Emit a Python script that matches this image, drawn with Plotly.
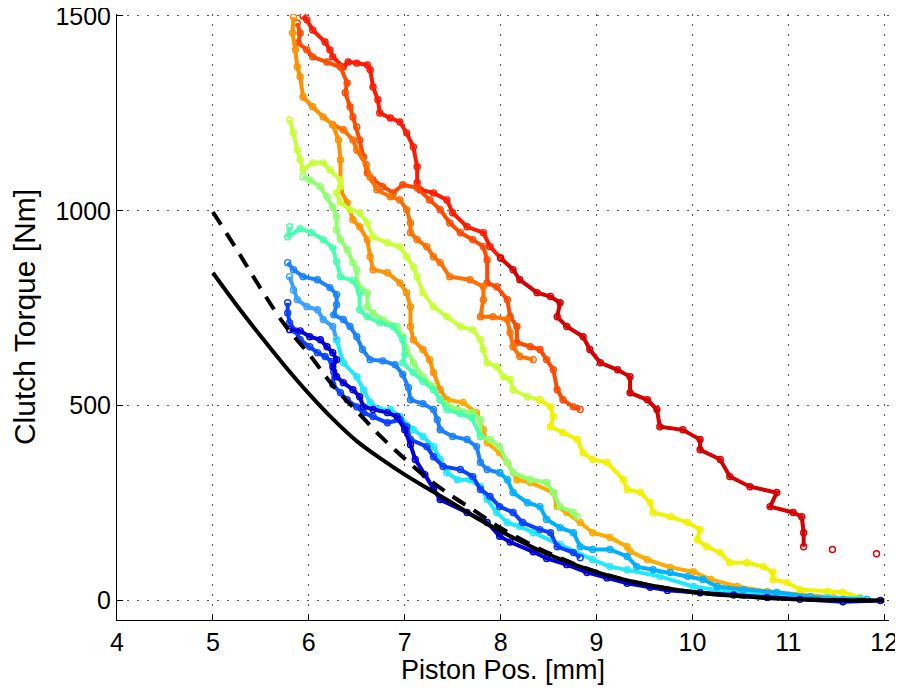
import plotly.graph_objects as go

# ---------------- data ----------------
red_top_x = [5.94, 5.98, 6.04, 6.17, 6.22, 6.25, 6.36, 6.41, 6.50, 6.61, 6.64, 6.67, 6.72, 6.74, 6.85, 6.95, 7.02, 7.09, 7.13, 7.13, 7.16, 7.30, 7.44, 7.50, 7.65, 7.82, 7.89, 8.00]
red_top_y = [1500, 1490, 1464, 1433, 1413, 1395, 1369, 1382, 1379, 1374, 1362, 1318, 1285, 1251, 1238, 1228, 1200, 1164, 1113, 1072, 1054, 1046, 1028, 995, 959, 944, 908, 879]

red_bot_x = [8.00, 8.13, 8.20, 8.38, 8.52, 8.62, 8.59, 8.69, 8.86, 8.93, 9.04, 9.22, 9.35, 9.35, 9.53, 9.63, 9.66, 9.90, 10.08, 10.08, 10.29, 10.39, 10.60, 10.88, 10.81, 11.05, 11.14, 11.16, 11.16]
red_bot_y = [879, 849, 823, 790, 780, 764, 728, 703, 677, 644, 610, 592, 574, 533, 515, 490, 446, 438, 413, 387, 362, 318, 292, 277, 241, 226, 215, 174, 138]

red_dots_x = [11.46, 11.92]
red_dots_y = [131, 120]

ored_x = [5.88, 5.91, 5.89, 5.98, 6.04, 6.19, 6.33, 6.40, 6.38, 6.43, 6.46, 6.50, 6.53, 6.57, 6.61, 6.67, 6.77, 6.88, 6.98, 7.13, 7.26, 7.37, 7.47, 7.58, 7.71, 7.82, 7.86, 7.86, 7.96, 8.07, 8.10, 8.17, 8.17, 8.31, 8.41, 8.48, 8.55, 8.59, 8.65, 8.76, 8.83]
ored_y = [1482, 1456, 1431, 1413, 1395, 1382, 1369, 1328, 1303, 1267, 1241, 1215, 1182, 1138, 1097, 1079, 1062, 1046, 1067, 1059, 1028, 1003, 969, 944, 926, 908, 874, 815, 805, 772, 728, 703, 662, 651, 644, 618, 592, 541, 515, 497, 490]

orng_x = [6.25, 6.36, 6.46, 6.50, 6.60, 6.64, 6.71, 6.85, 6.95, 7.02, 7.06, 7.06, 7.13, 7.23, 7.30, 7.37, 7.47, 7.68, 7.82, 7.82, 7.79, 7.92, 8.07, 8.10, 8.13, 8.20, 8.34]
orng_y = [1221, 1208, 1182, 1156, 1118, 1087, 1054, 1036, 1028, 1003, 969, 944, 926, 908, 882, 867, 831, 823, 805, 772, 728, 728, 721, 687, 651, 626, 618]

amber_top_x = [5.84, 5.83, 5.86, 5.88, 5.91, 5.94, 6.04, 6.15, 6.25, 6.31, 6.33, 6.33, 6.40, 6.46, 6.53, 6.61, 6.64, 6.67, 6.82, 6.95, 7.02, 7.06, 7.06, 7.09, 7.19, 7.26, 7.30, 7.37, 7.44]
amber_top_y = [1497, 1456, 1413, 1369, 1344, 1292, 1267, 1241, 1221, 1182, 1131, 1054, 1021, 977, 959, 926, 882, 849, 841, 815, 790, 754, 703, 669, 644, 618, 585, 541, 515]
amber_bot_x = [7.44, 7.61, 7.75, 7.82, 7.86, 7.99, 8.07, 8.17, 8.31, 8.55, 8.59, 8.69, 8.83, 8.96, 9.14, 9.32, 9.35, 9.53, 9.77, 10.01, 10.19, 10.47, 10.78, 11.12, 11.47, 11.75]
amber_bot_y = [515, 508, 482, 438, 405, 379, 354, 310, 303, 277, 241, 226, 200, 174, 162, 138, 126, 105, 85, 74, 54, 36, 23, 15, 8, 3]

ygreen_x = [5.80, 5.84, 5.88, 5.91, 5.94, 6.04, 6.15, 6.22, 6.33, 6.33, 6.29, 6.33, 6.43, 6.53, 6.61, 6.67, 6.82, 6.95, 7.02, 7.09, 7.13, 7.19, 7.30, 7.44, 7.58, 7.71, 7.79, 7.82, 7.86, 7.96, 8.03, 8.10, 8.13, 8.28, 8.41]
ygreen_y = [1233, 1200, 1156, 1131, 1105, 1123, 1123, 1105, 1079, 1062, 1046, 1021, 1003, 995, 969, 933, 918, 908, 882, 856, 831, 790, 754, 728, 703, 695, 669, 644, 610, 600, 574, 567, 541, 523, 515]
yellow_x = [8.41, 8.52, 8.55, 8.52, 8.65, 8.80, 8.86, 8.96, 9.11, 9.28, 9.32, 9.46, 9.56, 9.59, 9.77, 9.95, 10.08, 10.05, 10.15, 10.29, 10.39, 10.57, 10.74, 10.84, 10.84, 10.99, 11.12, 11.41, 11.57, 11.75]
yellow_y = [515, 497, 472, 446, 431, 413, 379, 362, 354, 310, 285, 277, 251, 226, 215, 200, 182, 156, 138, 123, 97, 97, 87, 72, 54, 46, 28, 23, 21, 8]

lgreen_x = [5.94, 6.01, 6.12, 6.19, 6.25, 6.29, 6.29, 6.33, 6.40, 6.46, 6.50, 6.50, 6.61, 6.61, 6.67, 6.77, 6.92, 6.98, 7.02, 7.09, 7.19, 7.30, 7.37, 7.55, 7.71, 7.79, 7.79, 7.89, 7.99, 8.07, 8.13, 8.31, 8.48, 8.55, 8.62, 8.76, 8.80]
lgreen_y = [1087, 1079, 1062, 1036, 1010, 985, 951, 926, 900, 867, 849, 815, 790, 754, 738, 720, 703, 677, 644, 610, 574, 549, 515, 490, 482, 464, 421, 413, 395, 354, 328, 310, 303, 277, 241, 226, 215]

teal_x = [5.80, 5.78, 5.91, 6.03, 6.15, 6.25, 6.29, 6.33, 6.46, 6.53, 6.53, 6.61, 6.74, 6.88, 6.98, 7.00, 6.98, 7.09, 7.19, 7.30, 7.37, 7.44, 7.58, 7.70, 7.79]
teal_y = [959, 933, 954, 944, 926, 905, 869, 831, 821, 790, 746, 728, 713, 703, 669, 631, 610, 585, 562, 541, 515, 490, 479, 469, 421]

azure_top_x = [5.78, 5.84, 5.94, 6.09, 6.22, 6.29, 6.29, 6.26, 6.36, 6.43, 6.50, 6.56, 6.64, 6.77, 6.90, 6.98, 7.04, 7.06, 7.19, 7.30, 7.34, 7.37, 7.50, 7.65, 7.75, 7.79, 7.86, 7.99]
azure_top_y = [867, 849, 831, 823, 803, 785, 759, 733, 721, 703, 677, 644, 618, 615, 605, 580, 546, 515, 505, 490, 464, 438, 421, 413, 395, 354, 336, 328]
azure_bot_x = [7.99, 8.07, 8.13, 8.28, 8.41, 8.48, 8.62, 8.76, 8.83, 8.96, 9.14, 9.32, 9.42, 9.59, 9.77, 9.95, 10.11, 10.26, 10.53, 10.88, 11.23, 11.57, 11.82]
azure_bot_y = [328, 310, 277, 251, 241, 208, 187, 174, 138, 131, 131, 113, 87, 79, 72, 62, 54, 36, 28, 21, 10, 3, 3]

lblue_x = [5.80, 5.84, 5.88, 5.98, 6.09, 6.15, 6.25, 6.29]
lblue_y = [831, 797, 772, 754, 746, 721, 703, 669]
cyan_x = [6.29, 6.36, 6.50, 6.57, 6.64, 6.74, 6.85, 6.95, 7.09, 7.19, 7.30, 7.37, 7.44, 7.55, 7.68, 7.79, 7.86, 7.96, 8.07, 8.20, 8.34, 8.62, 8.96, 9.14, 9.32, 9.66, 10.01, 10.36, 10.71, 11.05, 11.41, 11.75]
cyan_y = [669, 610, 574, 541, 508, 490, 490, 472, 438, 421, 395, 362, 328, 310, 310, 292, 259, 226, 200, 190, 174, 144, 105, 87, 79, 62, 36, 23, 15, 10, 8, 5]

blue_x = [5.78, 5.78, 5.80, 5.86, 5.91, 6.01, 6.09, 6.17, 6.24, 6.26, 6.25, 6.33, 6.40, 6.50, 6.57, 6.67, 6.82, 6.95, 7.02, 7.06, 7.23, 7.30, 7.40, 7.58, 7.71, 7.79, 7.89, 7.99, 8.13, 8.23, 8.41, 8.52, 8.59, 8.76, 8.83]
blue_y = [764, 738, 713, 692, 669, 651, 636, 626, 613, 587, 554, 533, 515, 497, 482, 472, 456, 464, 446, 413, 395, 369, 344, 336, 318, 285, 267, 241, 226, 200, 182, 174, 138, 123, 110]

dblue_x = [5.80, 5.91, 6.01, 6.12, 6.19, 6.25, 6.29, 6.25, 6.29, 6.36, 6.46, 6.53, 6.57, 6.67, 6.82, 6.92, 7.00, 7.06, 7.11, 7.21, 7.30, 7.37, 7.65, 7.86, 7.99, 8.10, 8.34, 8.48, 8.69, 8.90, 9.11, 9.32, 9.56, 9.74, 10.08, 10.43, 10.78, 11.12, 11.57, 11.96]
dblue_y = [695, 692, 677, 669, 651, 636, 618, 600, 574, 559, 541, 523, 497, 490, 482, 472, 438, 400, 362, 323, 285, 259, 226, 200, 165, 150, 125, 108, 92, 72, 58, 44, 34, 26, 20, 14, 8, 3, -3, 0]

model_x = [5.0, 5.25, 5.5, 5.75, 6.0, 6.25, 6.5, 6.75, 7.0, 7.25, 7.5, 7.75, 8.0, 8.5, 9.0, 9.5, 10.0, 10.5, 11.0, 11.5, 12.0]
model_solid_y = [841, 757, 678, 602, 531, 466, 409, 364, 323, 286, 250, 212, 178, 118, 73, 42, 22, 11, 4, 1, 0]
model_dash_y = [997, 900, 800, 707, 633, 552, 486, 421, 364, 311, 267, 227, 186, 122, 74, 42, 22, 11, 4, 1, 0]

x_ticks = [4, 5, 6, 7, 8, 9, 10, 11, 12]
y_ticks = [0, 500, 1000, 1500]

series = [
    (red_top_x, red_top_y, "#ff1a00"),
    (red_bot_x, red_bot_y, "#d60000"),
    (ored_x, ored_y, "#ff4a00"),
    (orng_x, orng_y, "#ff7000"),
    (amber_top_x, amber_top_y, "#ff9000"),
    (amber_bot_x, amber_bot_y, "#ffaa00"),
    (ygreen_x, ygreen_y, "#c8ff38"),
    (yellow_x, yellow_y, "#f2f200"),
    (lgreen_x, lgreen_y, "#90ff70"),
    (teal_x, teal_y, "#48ffb0"),
    (lblue_x, lblue_y, "#3aa0ff"),
    (cyan_x, cyan_y, "#20e8ff"),
    (azure_top_x, azure_top_y, "#1a82ff"),
    (azure_bot_x, azure_bot_y, "#00b0ff"),
    (blue_x, blue_y, "#0a40ff"),
    (dblue_x, dblue_y, "#0000d8"),
]

fig = go.Figure()
for xs, ys, col in series:
    fig.add_trace(go.Scatter(
        x=xs, y=ys, mode="lines+markers",
        line=dict(color=col, width=4),
        marker=dict(symbol="circle-open", size=6, color=col, line=dict(width=1.4, color=col)),
        hoverinfo="skip", showlegend=False))

fig.add_trace(go.Scatter(
    x=red_dots_x, y=red_dots_y, mode="markers",
    marker=dict(symbol="circle-open", size=6, color="#d60000", line=dict(width=1.4, color="#d60000")),
    showlegend=False))

fig.add_trace(go.Scatter(x=model_x, y=model_solid_y, mode="lines", line_shape="spline",
                         line=dict(color="black", width=4), showlegend=False))
fig.add_trace(go.Scatter(x=model_x, y=model_dash_y, mode="lines", line_shape="spline",
                         line=dict(color="black", width=4, dash="15px,10px"), showlegend=False))

fam = "Liberation Sans, Arial, Helvetica, sans-serif"
tickfont = dict(family=fam, size=25, color="black")
# the page body adds an 8 px offset, so the figure is sized to fit inside it
fig.update_layout(
    width=895, height=677,
    margin=dict(l=109, r=14, t=6, b=65, autoexpand=False),
    paper_bgcolor="white", plot_bgcolor="white",
    font=dict(family=fam, size=25, color="black"),
    xaxis=dict(range=[4, 12.05], tickvals=x_ticks, showgrid=True, gridcolor="#555555",
               griddash="2px,8px", gridwidth=1, showline=True, linecolor="black", linewidth=1,
               ticks="inside", ticklen=6, tickcolor="black", zeroline=False, automargin=False,
               ticklabeloverflow="allow",
               title=dict(text="Piston Pos. [mm]", standoff=7, font=dict(family=fam, size=27)),
               tickfont=tickfont),
    yaxis=dict(range=[-50, 1505], tickvals=y_ticks, showgrid=True, gridcolor="#555555",
               griddash="2px,8px", gridwidth=1, showline=True, linecolor="black", linewidth=1,
               ticks="inside", ticklen=6, tickcolor="black", zeroline=False, automargin=False,
               ticklabeloverflow="allow",
               title=dict(text="Clutch Torque [Nm]", standoff=13, font=dict(family=fam, size=30)),
               tickfont=tickfont),
)

fig.write_html("out.html")
